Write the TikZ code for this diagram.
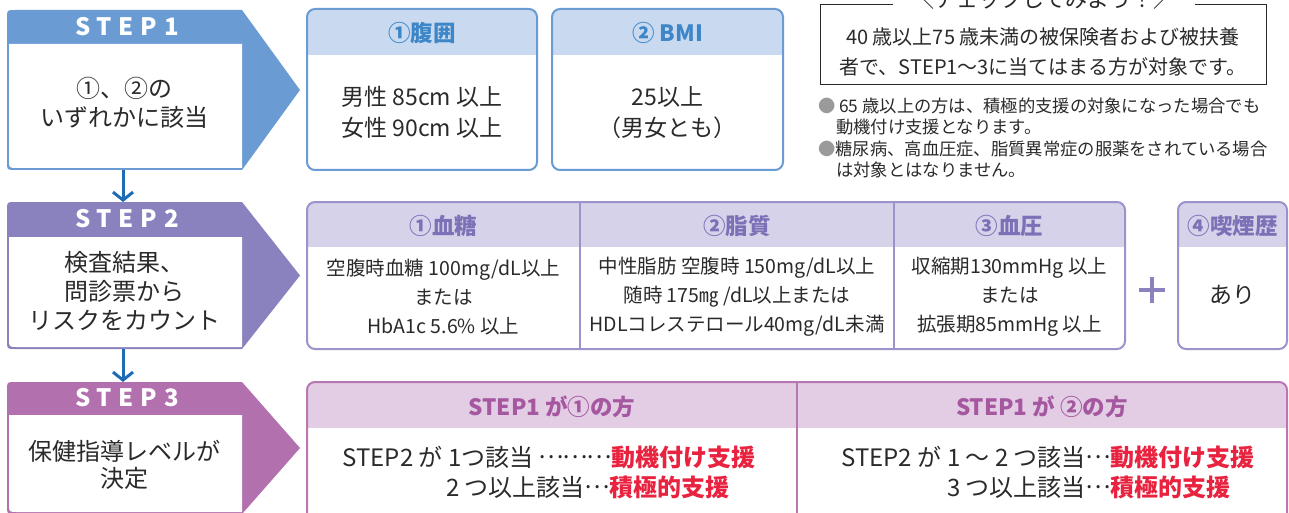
\documentclass[tikz,border=0pt]{standalone}
\usepackage{fontspec}
\setmainfont{Noto Sans CJK JP}
\newfontfamily\spaced{Noto Sans CJK JP}[LetterSpace=28]
\newcommand{\mdot}{\makebox[1em]{\raisebox{0.3em}{…}}}
\usetikzlibrary{arrows.meta}

\definecolor{sOne}{HTML}{6A9BD3}
\definecolor{hOne}{HTML}{C9DAF0}
\definecolor{tOne}{HTML}{3D86C8}
\definecolor{sTwo}{HTML}{8A82BE}
\definecolor{bTwo}{HTML}{9C93CB}
\definecolor{hTwo}{HTML}{D6D2EA}
\definecolor{tTwo}{HTML}{7C71B6}
\definecolor{sThree}{HTML}{B271AE}
\definecolor{bThree}{HTML}{B877B3}
\definecolor{hThree}{HTML}{E3CDE5}
\definecolor{tThree}{HTML}{A5579F}
\definecolor{arrowblue}{HTML}{1E6CB6}
\definecolor{ink}{HTML}{2A2A2A}
\definecolor{redtxt}{HTML}{E8223F}
\definecolor{gbullet}{HTML}{9A9A9A}

\newcommand{\stepshape}[4]{%
  \fill[#1] (242,#2) -- (300,{(#2+#4)/2}) -- (242,#4) -- (15,#4) .. controls (7,#4) .. (7,{#4-8}) -- (7,{#2+8}) .. controls (7,#2) .. (15,#2) -- cycle;
  \fill[white] (242,#3) -- (242,{#4-2}) -- (17,{#4-2}) .. controls (9,{#4-2}) .. (9,{#4-10}) -- (9,#3) -- cycle;}

\begin{document}
\begin{tikzpicture}[x=1pt,y=-1pt,
  stepbox/.style={minimum width=235pt,inner sep=0pt,outer sep=0pt},
  steplabel/.style={text=white,inner sep=0pt,font=\fontsize{24}{24}\selectfont\spaced\bfseries},
  steptxt/.style={text=ink,align=center,inner sep=0pt,font=\fontsize{24}{29}\selectfont},
  txt/.style={text=ink,align=center,inner sep=0pt,font=\fontsize{23}{31}\selectfont},
  smalltxt/.style={text=ink,align=center,inner sep=0pt,font=\fontsize{19.5}{29}\selectfont},
  hd/.style={inner sep=0pt,font=\fontsize{22.5}{22.5}\selectfont\bfseries},
  lvl/.style={text=ink,inner sep=0pt,font=\fontsize{24}{24}\selectfont},
  lvlred/.style={text=redtxt,inner sep=0pt,font=\fontsize{24}{24}\selectfont\bfseries},
  bul/.style={text=ink,inner sep=0pt,anchor=base west,font=\fontsize{17.3}{17.3}\selectfont},
  arr/.style={draw=arrowblue,line width=3pt,-{Straight Barb[length=8pt,width=20pt]}},
  frame/.style={rounded corners=8pt,line width=2pt,inner sep=0pt}]
\useasboundingbox (0,0) rectangle (1289,513);
\fill[white] (0,0) rectangle (1289,513);
\clip (0,0) rectangle (1289,513);

% ---------- step shapes ----------
\stepshape{sOne}{10}{44}{170}
\stepshape{sTwo}{202}{237}{349}
\stepshape{sThree}{382}{415}{514}

\node[stepbox,minimum height=160pt] (s1) at (123,90) {};
\node[stepbox,minimum height=147pt] (s2) at (123,275.5) {};
\node[stepbox,minimum height=132pt] (s3) at (123,448) {};

\node[steplabel] (l1) at (127,27) {STEP1};
\node[steplabel] (l2) at (127,219) {STEP2};
\node[steplabel] (l3) at (127,398) {STEP3};

\node[steptxt] (d1) at (124.5,102.5) {①、②の\\いずれかに該当};
\node[steptxt] (d2) at (124.5,291) {検査結果、\\問診票から\\リスクをカウント};
\node[steptxt,font=\fontsize{24}{27}\selectfont] (d3) at (124.5,465) {保健指導レベルが\\決定};

\draw[arr] (s1.south) -- (s2.north);
\draw[arr] (s2.south) -- (s3.north);

% ---------- row 1 ----------
\begin{scope}
  \clip[rounded corners=8pt] (307,9) rectangle (537,170);
  \fill[hOne] (307,9) rectangle (537,55);
\end{scope}
\begin{scope}
  \clip[rounded corners=8pt] (552,9) rectangle (783,170);
  \fill[hOne] (552,9) rectangle (783,55);
\end{scope}
\node[frame,draw=sOne,minimum width=230pt,minimum height=161pt] (b1) at (422,89.5) {};
\node[frame,draw=sOne,minimum width=231pt,minimum height=161pt] (b2) at (667.5,89.5) {};
\node[hd,text=tOne] (h1) at (422,33) {①腹囲};
\node[hd,text=tOne] (h2) at (667.5,33) {② BMI};
\node[txt] (t1) at (422,112.5) {男性 85cm 以上\\女性 90cm 以上};
\node[txt] (t2) at (667.5,112.5) {25以上\\（男女とも）};

% ---------- check box ----------
\node[draw=ink,line width=1pt,minimum width=446pt,minimum height=80pt,inner sep=0pt] (chk) at (1043,45) {};
\node[fill=white,inner xsep=19pt,inner ysep=2pt,text=ink,font=\fontsize{22}{22}\selectfont] (ct) at (1044,-1) {＼チェックしてみよう！／};
\node[text=ink,align=center,inner sep=0pt,font=\fontsize{20}{30}\selectfont] (cx) at (1043,52) {40 歳以上75 歳未満の被保険者および被扶養\\者で、STEP1～3に当てはまる方が対象です。};

\node[bul] (n1) at (818,113) {{\color{gbullet}●} 65 歳以上の方は、積極的支援の対象になった場合でも};
\node[bul] (n2) at (836,134) {動機付け支援となります。};
\node[bul] (n3) at (818,156) {{\color{gbullet}●}糖尿病、高血圧症、脂質異常症の服薬をされている場合};
\node[bul] (n4) at (836,176) {は対象とはなりません。};

% ---------- row 2 ----------
\begin{scope}
  \clip[rounded corners=8pt] (307,202) rectangle (1125,349);
  \fill[hTwo] (307,202) rectangle (1125,247);
\end{scope}
\begin{scope}
  \clip[rounded corners=8pt] (1178,202) rectangle (1287,349);
  \fill[hTwo] (1178,202) rectangle (1287,247);
\end{scope}
\node[frame,draw=bTwo,minimum width=818pt,minimum height=147pt] (r2) at (716,275.5) {};
\draw[bTwo,line width=2pt] (580,202) -- (580,349);
\draw[bTwo,line width=2pt] (894,202) -- (894,349);
\node[frame,draw=bTwo,minimum width=109pt,minimum height=147pt] (r4) at (1232.5,275.5) {};

\node[hd,text=tTwo] (g1) at (443.5,226) {①血糖};
\node[hd,text=tTwo] (g2) at (737,226) {②脂質};
\node[hd,text=tTwo] (g3) at (1009.5,226) {③血圧};
\node[hd,text=tTwo] (g4) at (1232.5,226) {④喫煙歴};

\node[smalltxt] (u1) at (443.5,297) {空腹時血糖 100mg/dL以上\\または\\HbA1c 5.6\% 以上};
\node[smalltxt] (u2) at (737,297) {中性脂肪 空腹時 150mg/dL以上\\随時 175㎎ /dL以上または\\HDLコレステロール40mg/dL未満};
\node[smalltxt] (u3) at (1009.5,297) {収縮期130mmHg 以上\\または\\拡張期85mmHg 以上};
\node[txt] (u4) at (1232.5,295) {あり};

\draw[sTwo,line width=3.5pt] (1139,290) -- (1165,290);
\draw[sTwo,line width=3.5pt] (1152,277) -- (1152,303);

% ---------- row 3 ----------
\begin{scope}
  \clip[rounded corners=8pt] (307,382) rectangle (1287,540);
  \fill[hThree] (307,382) rectangle (1287,428);
\end{scope}
\node[frame,draw=bThree,minimum width=980pt,minimum height=158pt] (r3) at (797,461) {};
\draw[bThree,line width=2pt] (797,382) -- (797,540);

\node[hd,text=tThree] (k1) at (552,407) {STEP1 が①の方};
\node[hd,text=tThree] (k2) at (1042,407) {STEP1 が ②の方};

\node[lvl,anchor=base east] (a1) at (611,466) {STEP2 が 1つ該当 \mdot\mdot\mdot};
\node[lvlred,anchor=base west] (a2) at (611,466) {動機付け支援};
\node[lvl,anchor=base east] (a3) at (609,496) {2 つ以上該当\mdot};
\node[lvlred,anchor=base west] (a4) at (609,496) {積極的支援};

\node[lvl,anchor=base east] (c1) at (1110,466) {STEP2 が 1 ～ 2 つ該当\mdot};
\node[lvlred,anchor=base west] (c2) at (1110,466) {動機付け支援};
\node[lvl,anchor=base east] (c3) at (1110,496) {3 つ以上該当\mdot};
\node[lvlred,anchor=base west] (c4) at (1110,496) {積極的支援};
\end{tikzpicture}
\end{document}
